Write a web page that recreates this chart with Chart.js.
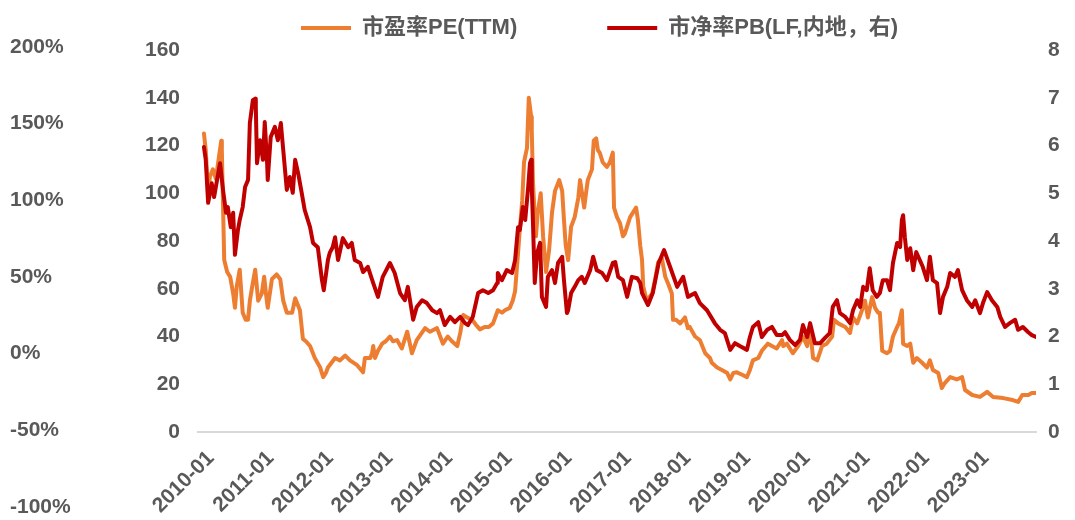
<!DOCTYPE html>
<html>
<head>
<meta charset="utf-8">
<script src="https://cdn.jsdelivr.net/npm/chart.js@4.4.1/dist/chart.umd.min.js"></script>
<style>
  html, body { margin: 0; padding: 0; background: #ffffff; }
  #wrap { width: 1075px; height: 520px; }
</style>
</head>
<body>
<div id="wrap"><canvas id="chart" width="1075" height="520"></canvas></div>
<script>
// Time in decimal years (2010.00 = January 2010)
const peYears = [
  2010.00, 2010.03, 2010.07, 2010.10, 2010.15, 2010.20, 2010.25, 2010.29, 2010.30, 2010.34,
  2010.39, 2010.44, 2010.49, 2010.52, 2010.55, 2010.60, 2010.65, 2010.70, 2010.74, 2010.77,
  2010.81, 2010.86, 2010.91, 2010.97, 2011.01, 2011.04, 2011.07, 2011.14, 2011.22, 2011.28,
  2011.33, 2011.39, 2011.48, 2011.53, 2011.61, 2011.66, 2011.71, 2011.78, 2011.86, 2011.95,
  2012.00, 2012.05, 2012.08, 2012.20, 2012.28, 2012.37, 2012.45, 2012.57, 2012.67, 2012.70,
  2012.79, 2012.82, 2012.84, 2012.87, 2012.92, 2012.99, 2013.05, 2013.12, 2013.17, 2013.24,
  2013.32, 2013.41, 2013.49, 2013.57, 2013.64, 2013.71, 2013.79, 2013.91, 2014.01, 2014.09,
  2014.16, 2014.25, 2014.30, 2014.35, 2014.41, 2014.50, 2014.56, 2014.63, 2014.71, 2014.78,
  2014.85, 2014.93, 2015.00, 2015.05, 2015.13, 2015.18, 2015.22, 2015.27, 2015.30, 2015.34,
  2015.37, 2015.42, 2015.45, 2015.49, 2015.50, 2015.52, 2015.55, 2015.57, 2015.60, 2015.65,
  2015.69, 2015.74, 2015.79, 2015.84, 2015.89, 2015.96, 2016.01, 2016.04, 2016.07, 2016.11,
  2016.16, 2016.22, 2016.28, 2016.31, 2016.38, 2016.41, 2016.44, 2016.51, 2016.54, 2016.58,
  2016.61, 2016.64, 2016.69, 2016.76, 2016.81, 2016.86, 2016.88, 2016.93, 2016.98, 2017.03,
  2017.06, 2017.15, 2017.20, 2017.25, 2017.28, 2017.32, 2017.35, 2017.37, 2017.43, 2017.52,
  2017.57, 2017.62, 2017.68, 2017.74, 2017.79, 2017.85, 2017.87, 2017.92, 2017.99, 2018.07,
  2018.12, 2018.15, 2018.24, 2018.32, 2018.41, 2018.49, 2018.52, 2018.61, 2018.69, 2018.78,
  2018.83, 2018.88, 2018.94, 2019.03, 2019.11, 2019.16, 2019.21, 2019.30, 2019.36, 2019.46,
  2019.53, 2019.61, 2019.70, 2019.72, 2019.78, 2019.88, 2019.97, 2020.05, 2020.12, 2020.17,
  2020.22, 2020.29, 2020.37, 2020.45, 2020.54, 2020.57, 2020.64, 2020.76, 2020.84, 2020.89,
  2020.96, 2021.04, 2021.09, 2021.14, 2021.21, 2021.26, 2021.31, 2021.34, 2021.38, 2021.46,
  2021.51, 2021.56, 2021.63, 2021.66, 2021.71, 2021.73, 2021.80, 2021.85, 2021.90, 2021.96,
  2022.05, 2022.13, 2022.18, 2022.23, 2022.32, 2022.38, 2022.43, 2022.52, 2022.63, 2022.72,
  2022.77, 2022.89, 2023.02, 2023.14, 2023.24, 2023.41, 2023.57, 2023.66, 2023.73, 2023.83,
  2023.89, 2023.96
];
const peValues = [
  125, 118, 100, 107, 110, 106, 115, 122, 118, 72,
  67, 65, 58, 52, 61, 68, 50, 47, 47, 55,
  61, 68, 55, 58, 65, 58, 52, 64, 66, 64,
  55, 50, 50, 56, 51, 39, 38, 36, 31, 27,
  23, 25, 27, 31, 30, 32, 30, 28, 25, 31,
  31, 33, 36, 31, 34, 37, 38, 40, 38, 38.5,
  35, 42, 33, 38.5, 41, 43.5, 42, 43.5, 37, 40,
  38, 36, 41.5, 49, 48, 47, 45, 43, 44, 44,
  45.5, 51, 50, 51, 52, 55, 59, 75, 85, 97,
  113, 119, 140, 132, 126, 105, 90, 82, 92, 100,
  82, 67, 76, 92, 101, 105.5, 101, 89, 78, 72,
  86, 90, 98, 105.5, 94, 100, 105.5, 110, 122, 123,
  118, 117, 113, 111, 113, 117, 94, 90, 87.5, 82,
  83, 90, 92, 94, 89, 78, 72, 61, 55, 58,
  64, 71, 73, 65, 62, 58, 47, 47, 45.5, 48,
  43.5, 44, 40, 38.5, 33, 31, 29, 27, 26, 24.7,
  22, 24.7, 25, 24, 23, 26, 30, 31, 34, 37,
  36, 35, 38.5, 36, 37, 33, 36, 40, 36, 43,
  31, 30, 36, 37, 40, 47, 45.5, 44, 41.5, 48,
  45.5, 51, 55, 48, 56.5, 52, 50, 50, 34, 33,
  34, 40, 44, 45.5, 51, 37, 36, 37, 29, 31,
  29, 27, 30, 26, 24.7, 18.4, 20.5, 23, 22, 23,
  17.6, 15.5, 14.7, 16.8, 14.7, 14.2, 13.4, 12.6, 15.5, 15.5,
  16.3, 16.3
];

const pbYears = [
  2010.00, 2010.03, 2010.07, 2010.10, 2010.13, 2010.17, 2010.22, 2010.27, 2010.32, 2010.37,
  2010.40, 2010.45, 2010.49, 2010.52, 2010.57, 2010.60, 2010.65, 2010.69, 2010.74, 2010.77,
  2010.82, 2010.86, 2010.87, 2010.89, 2010.94, 2010.99, 2011.02, 2011.06, 2011.07, 2011.12,
  2011.19, 2011.24, 2011.29, 2011.33, 2011.39, 2011.44, 2011.49, 2011.53, 2011.58, 2011.64,
  2011.69, 2011.78, 2011.83, 2011.91, 2011.98, 2012.01, 2012.08, 2012.11, 2012.16, 2012.20,
  2012.25, 2012.33, 2012.42, 2012.48, 2012.53, 2012.62, 2012.67, 2012.75, 2012.84, 2012.92,
  2013.00, 2013.12, 2013.20, 2013.29, 2013.37, 2013.42, 2013.51, 2013.57, 2013.66, 2013.74,
  2013.83, 2013.91, 2013.96, 2014.04, 2014.13, 2014.21, 2014.30, 2014.38, 2014.43, 2014.51,
  2014.60, 2014.68, 2014.77, 2014.85, 2014.92, 2014.93, 2015.00, 2015.08, 2015.17, 2015.22,
  2015.27, 2015.30, 2015.35, 2015.39, 2015.44, 2015.47, 2015.49, 2015.50, 2015.52, 2015.55,
  2015.59, 2015.64, 2015.67, 2015.74, 2015.77, 2015.84, 2015.89, 2015.94, 2016.01, 2016.04,
  2016.09, 2016.11, 2016.16, 2016.22, 2016.28, 2016.34, 2016.39, 2016.48, 2016.53, 2016.59,
  2016.68, 2016.76, 2016.86, 2016.90, 2016.95, 2017.03, 2017.10, 2017.18, 2017.27, 2017.32,
  2017.35, 2017.45, 2017.53, 2017.63, 2017.72, 2017.82, 2017.94, 2018.04, 2018.12, 2018.24,
  2018.32, 2018.44, 2018.57, 2018.66, 2018.74, 2018.83, 2018.91, 2018.99, 2019.11, 2019.16,
  2019.21, 2019.30, 2019.36, 2019.45, 2019.53, 2019.61, 2019.70, 2019.75, 2019.83, 2019.92,
  2020.00, 2020.05, 2020.12, 2020.17, 2020.25, 2020.34, 2020.42, 2020.50, 2020.55, 2020.62,
  2020.67, 2020.76, 2020.84, 2020.89, 2020.96, 2021.01, 2021.06, 2021.12, 2021.17, 2021.22,
  2021.29, 2021.34, 2021.39, 2021.46, 2021.51, 2021.56, 2021.63, 2021.68, 2021.71, 2021.73,
  2021.76, 2021.80, 2021.85, 2021.90, 2021.95, 2022.01, 2022.06, 2022.13, 2022.18, 2022.23,
  2022.30, 2022.35, 2022.40, 2022.47, 2022.52, 2022.60, 2022.65, 2022.72, 2022.80, 2022.89,
  2022.94, 2023.02, 2023.07, 2023.14, 2023.22, 2023.31, 2023.36, 2023.44, 2023.52, 2023.61,
  2023.66, 2023.74, 2023.83, 2023.89, 2023.96
];
const pbValues = [
  5.97, 5.70, 4.80, 5.00, 5.21, 4.92, 5.28, 5.63, 5.07, 4.59,
  4.71, 4.29, 4.59, 3.71, 4.23, 4.44, 4.71, 5.13, 5.28, 6.47,
  6.95, 6.98, 6.80, 5.63, 6.11, 5.70, 6.49, 5.63, 5.28, 6.18,
  6.39, 6.11, 6.47, 5.91, 5.07, 5.34, 5.01, 5.70, 5.42, 5.01,
  4.65, 4.29, 3.96, 3.87, 3.18, 2.97, 3.60, 3.75, 3.87, 4.08,
  3.60, 4.06, 3.87, 3.96, 3.60, 3.54, 3.35, 3.46, 3.12, 2.83,
  3.25, 3.54, 3.33, 2.91, 2.76, 3.04, 2.35, 2.62, 2.76, 2.70,
  2.55, 2.49, 2.55, 2.24, 2.41, 2.30, 2.41, 2.28, 2.24, 2.41,
  2.91, 2.97, 2.91, 2.97, 3.12, 3.33, 3.18, 3.39, 3.33, 3.60,
  4.29, 4.23, 4.71, 4.44, 5.13, 5.63, 5.70, 5.13, 4.38, 3.12,
  3.75, 3.96, 2.83, 2.62, 3.25, 3.39, 3.12, 3.54, 3.67, 3.18,
  2.49, 2.55, 2.91, 3.04, 3.18, 3.25, 3.12, 3.39, 3.67, 3.39,
  3.33, 3.18, 3.54, 3.56, 3.25, 3.18, 2.83, 3.25, 3.22, 3.12,
  2.91, 2.66, 2.91, 3.54, 3.81, 3.46, 3.04, 3.25, 2.83, 2.91,
  2.70, 2.55, 2.28, 2.14, 2.07, 1.72, 1.86, 1.80, 1.72, 1.99,
  2.20, 2.30, 1.99, 2.14, 2.20, 2.03, 2.03, 2.09, 1.93, 1.82,
  1.93, 2.24, 1.99, 2.28, 1.86, 1.86, 1.97, 2.07, 2.62, 2.76,
  2.49, 2.41, 2.28, 2.55, 2.76, 2.62, 3.04, 2.97, 3.43, 2.97,
  2.83, 2.91, 3.18, 3.18, 2.97, 3.54, 3.96, 3.87, 4.44, 4.54,
  4.08, 3.60, 3.85, 3.39, 3.77, 3.60, 3.46, 3.18, 3.67, 3.18,
  3.12, 2.49, 2.83, 3.04, 3.33, 3.25, 3.39, 2.97, 2.76, 2.62,
  2.76, 2.49, 2.70, 2.93, 2.76, 2.62, 2.41, 2.20, 2.28, 2.35,
  2.14, 2.20, 2.09, 2.03, 1.99
];

const yearTicks = [2010, 2011, 2012, 2013, 2014, 2015, 2016, 2017, 2018, 2019, 2020, 2021, 2022, 2023];
const peTicks = [0, 20, 40, 60, 80, 100, 120, 140, 160];
const pbTicks = [0, 1, 2, 3, 4, 5, 6, 7, 8];
const pctTicks = [-100, -50, 0, 50, 100, 150, 200];
const seriesNames = ['市盈率PE(TTM)', '市净率PB(LF,内地，右)'];

const FAMILY = '"Liberation Sans", "Noto Sans CJK SC", sans-serif';
const TEXT_COLOR = '#595959';
const PE_COLOR = '#ED7D31';
const PB_COLOR = '#C00000';
const tickFont = { family: FAMILY, size: 21, weight: 'bold' };

const toPoints = (xs, ys) => xs.map((x, i) => ({ x: x, y: ys[i] }));
const fixedTicks = list => scale => { scale.ticks = list.map(v => ({ value: v })); };
// Vertical axes keep a fixed width and ask for no extra room above/below the plot
const fixedWidth = w => scale => {
  scale.width = w;
  scale.paddingTop = 0;
  scale.paddingBottom = 0;
};

// Places the horizontal legend row at a fixed spot above the plot
const legendPlacement = {
  id: 'legendPlacement',
  afterLayout(chart, args, opts) {
    const lg = chart.legend;
    if (!lg) return;
    const pad = lg.options.labels.padding;
    lg.left = opts.x - pad;
    lg.right = chart.width + 600;
    lg.top = opts.y - pad;
    lg.bottom = opts.y + 40;
    lg.width = lg.right - lg.left;
    lg.height = lg.bottom - lg.top;
  }
};

new Chart(document.getElementById('chart'), {
  type: 'line',
  data: {
    datasets: [
      {
        label: seriesNames[0],
        data: toPoints(peYears, peValues),
        yAxisID: 'yPE',
        borderColor: PE_COLOR,
        backgroundColor: PE_COLOR,
        borderWidth: 4,
        borderJoinStyle: 'round',
        borderCapStyle: 'round',
        pointRadius: 0,
        tension: 0,
        order: 1
      },
      {
        label: seriesNames[1],
        data: toPoints(pbYears, pbValues),
        yAxisID: 'yPB',
        borderColor: PB_COLOR,
        backgroundColor: PB_COLOR,
        borderWidth: 4,
        borderJoinStyle: 'round',
        borderCapStyle: 'round',
        pointRadius: 0,
        tension: 0,
        order: 0
      }
    ]
  },
  options: {
    responsive: false,
    animation: false,
    devicePixelRatio: 1,
    layout: { padding: { top: 46, left: 10, right: 0, bottom: 13 } },
    plugins: {
      tooltip: { enabled: false },
      legendPlacement: { x: 301, y: 17 },
      legend: {
        display: true,
        position: 'top',
        align: 'start',
        maxHeight: 1,
        labels: {
          boxWidth: 50,
          boxHeight: 4,
          padding: 90,
          color: TEXT_COLOR,
          font: { family: FAMILY, size: 22, weight: 'bold' },
          generateLabels(chart) {
            return chart.data.datasets.map((ds, i) => ({
              text: ds.label,
              fillStyle: ds.borderColor,
              strokeStyle: ds.borderColor,
              lineWidth: 0,
              fontColor: TEXT_COLOR,
              hidden: !chart.isDatasetVisible(i),
              datasetIndex: i
            }));
          }
        }
      }
    },
    scales: {
      x: {
        type: 'linear',
        min: 2009.90,
        max: 2023.96,
        position: { yPE: 0 },
        grid: { display: false, drawTicks: false },
        border: { display: true, color: '#D9D9D9', width: 2 },
        afterBuildTicks: fixedTicks(yearTicks),
        ticks: {
          autoSkip: false,
          minRotation: 45,
          maxRotation: 45,
          padding: 14,
          labelOffset: 7,
          color: TEXT_COLOR,
          font: tickFont,
          callback: v => v + '-01'
        }
      },
      yPct: {
        type: 'linear',
        position: 'left',
        weight: 1,
        min: -100,
        max: 200,
        grid: { display: false, drawTicks: false },
        border: { display: false },
        afterBuildTicks: fixedTicks(pctTicks),
        afterFit: fixedWidth(100),
        ticks: { crossAlign: 'far', padding: 0, color: TEXT_COLOR, font: tickFont, callback: v => v + '%' }
      },
      yPE: {
        type: 'linear',
        position: 'left',
        weight: 0,
        min: -31.41,
        max: 161.26,
        grid: { display: false, drawTicks: false },
        border: { display: false },
        afterBuildTicks: fixedTicks(peTicks),
        afterFit: fixedWidth(88),
        ticks: { padding: 18, color: TEXT_COLOR, font: tickFont, callback: v => String(v) }
      },
      yPB: {
        type: 'linear',
        position: 'right',
        min: -1.5705,
        max: 8.063,
        grid: { display: false, drawTicks: false },
        border: { display: false },
        afterBuildTicks: fixedTicks(pbTicks),
        afterFit: fixedWidth(39),
        ticks: { padding: 12, color: TEXT_COLOR, font: tickFont, callback: v => String(v) }
      }
    }
  },
  plugins: [legendPlacement]
});
</script>
</body>
</html>
